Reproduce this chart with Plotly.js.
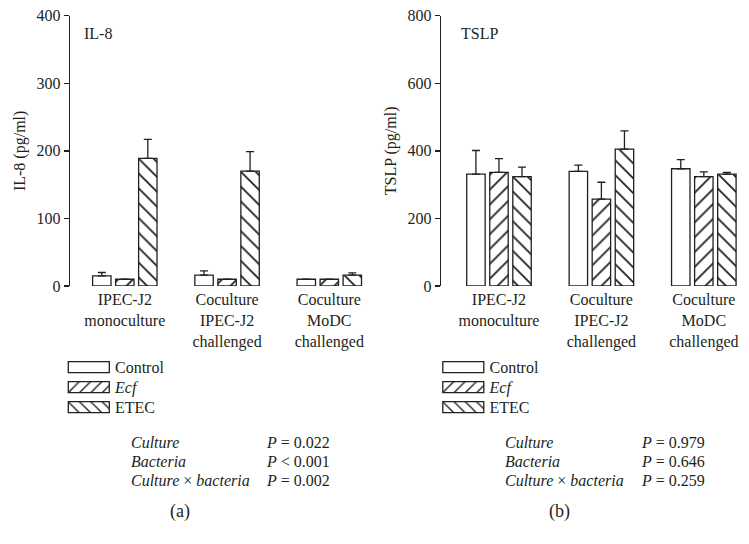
<!DOCTYPE html>
<html><head><meta charset="utf-8">
<script src="https://cdn.plot.ly/plotly-3.0.1.min.js"></script>
<style>html,body{margin:0;padding:0;background:#fff}#chart{width:749px;height:544px}</style>
</head><body><div id="chart"></div>
<script>
// ---- data ----
const categories = ['IPEC-J2<br>monoculture', 'Coculture<br>IPEC-J2<br>challenged', 'Coculture<br>MoDC<br>challenged'];
const seriesNames = ['Control', '<i>Ecf</i>', 'ETEC'];
const il8Control = [15, 16, 10];
const il8ControlErr = [5, 6.5, 0];
const il8Ecf = [10, 10, 10];
const il8EcfErr = [0, 0, 0];
const il8Etec = [189, 170, 16];
const il8EtecErr = [28, 29, 3.5];
const tslpControl = [331, 339, 347];
const tslpControlErr = [70, 19, 27];
const tslpEcf = [336, 257, 324];
const tslpEcfErr = [41, 50, 14];
const tslpEtec = [324, 405, 331];
const tslpEtecErr = [28, 54, 5];
const il8Ticks = [0, 100, 200, 300, 400];
const tslpTicks = [0, 200, 400, 600, 800];
const statLabels = ['<i>Culture</i>', '<i>Bacteria</i>', '<i>Culture</i> × <i>bacteria</i>'];
const il8PValues = ['<i>P</i> = 0.022', '<i>P</i> &lt; 0.001', '<i>P</i> = 0.002'];
const tslpPValues = ['<i>P</i> = 0.979', '<i>P</i> = 0.646', '<i>P</i> = 0.259'];

// ---- style ----
const INK = '#231f20';
const FONT = '"Liberation Serif", "Times New Roman", serif';
const W = 749, H = 544;
const px = v => v / W;
const py = v => (H - v) / H;
const patterns = [
  {shape: ''},
  {shape: '/', size: 10.5, solidity: 0.17, fgcolor: INK, bgcolor: '#fff', fillmode: 'replace'},
  {shape: '\\', size: 10.5, solidity: 0.17, fgcolor: INK, bgcolor: '#fff', fillmode: 'replace'}
];

function bar(i, y, err, xa, ya, legend) {
  return {
    type: 'bar', name: seriesNames[i], x: categories, y: y,
    xaxis: xa, yaxis: ya, legend: legend, showlegend: true,
    marker: {color: '#fff', line: {color: INK, width: 1.3}, pattern: patterns[i]},
    error_y: {type: 'data', symmetric: false, array: err, arrayminus: err.map(() => 0),
              color: INK, thickness: 1.3, width: 4},
    hoverinfo: 'none'
  };
}

const traces = [
  bar(0, il8Control, il8ControlErr, 'x', 'y', 'legend'),
  bar(1, il8Ecf, il8EcfErr, 'x', 'y', 'legend'),
  bar(2, il8Etec, il8EtecErr, 'x', 'y', 'legend'),
  bar(0, tslpControl, tslpControlErr, 'x2', 'y2', 'legend2'),
  bar(1, tslpEcf, tslpEcfErr, 'x2', 'y2', 'legend2'),
  bar(2, tslpEtec, tslpEtecErr, 'x2', 'y2', 'legend2')
];

const yDomain = [py(286), py(15.7)];
function xAxis(domain, range) {
  return {domain: domain, range: range, type: 'category', showline: false, zeroline: false,
          showgrid: false, ticks: '', tickfont: {family: FONT, size: 16, color: INK},
          ticklabelstandoff: 2, fixedrange: true};
}
function yAxis(anchor, ticks, title) {
  return {domain: yDomain, anchor: anchor, range: [ticks[0], ticks[ticks.length - 1]],
          tickvals: ticks, showline: true, linecolor: INK, linewidth: 1.3,
          ticks: 'outside', ticklen: 5, tickwidth: 1.3, tickcolor: INK,
          showgrid: false, zeroline: false, tickfont: {family: FONT, size: 16, color: INK},
          ticklabelstandoff: 0,
          title: {text: title, font: {family: FONT, size: 16, color: INK}, standoff: 7},
          fixedrange: true};
}

const annotations = [];
function addAnn(text, x, y, xanchor, size) {
  annotations.push({text: text, xref: 'paper', yref: 'paper', x: x, y: y, xanchor: xanchor,
    yanchor: 'middle', showarrow: false, font: {family: FONT, size: size || 16, color: INK}});
}
addAnn('IL-8', px(82), py(33.3), 'left');
addAnn('TSLP', px(458.5), py(33.3), 'left');
const statY = [442.7, 461.5, 480.3];
statLabels.forEach((t, i) => {
  addAnn(t, px(129), py(statY[i]), 'left');
  addAnn(il8PValues[i], px(264), py(statY[i]), 'left');
  addAnn(t, px(502.5), py(statY[i]), 'left');
  addAnn(tslpPValues[i], px(639), py(statY[i]), 'left');
});
addAnn('(a)', px(180), py(511.7), 'center', 18);
addAnn('(b)', px(559.7), py(511.7), 'center', 18);

const legendBase = {yanchor: 'top', y: py(350.3), xanchor: 'left', bgcolor: 'rgba(0,0,0,0)',
  itemwidth: 50, tracegroupgap: 0, traceorder: 'normal'};

const layout = {
  width: W, height: H, margin: {l: 0, r: 0, t: 0, b: 0},
  paper_bgcolor: '#fff', plot_bgcolor: '#fff',
  font: {family: FONT, size: 16, color: INK},
  barmode: 'group', bargap: 0.325, bargroupgap: 0.2,
  xaxis: xAxis([px(70), px(384)], [-0.536, 2.535]),
  yaxis: yAxis('x', il8Ticks, 'IL-8 (pg/ml)'),
  xaxis2: xAxis([px(441), 1], [-0.566, 2.441]),
  yaxis2: yAxis('x2', tslpTicks, 'TSLP (pg/ml)'),
  legend: Object.assign({}, legendBase, {x: px(55), font: {family: FONT, size: 16, color: INK}}),
  legend2: Object.assign({}, legendBase, {x: px(429.5), font: {family: FONT, size: 16, color: INK}}),
  annotations: annotations,
  showlegend: true
};

// Legend keys: long boxes and a 20 px row pitch, as in the original figure
const KEY_PATH = 'M24.3,5.5H-16.7V-5.5H24.3Z';
const ROW_PITCH = 20;
function fixLegends(gd) {
  gd.querySelectorAll('g.legend, g.legend2').forEach(leg => {
    const items = Array.from(leg.querySelectorAll('g.traces'));
    if (!items.length) return;
    const parse = el => {
      const m = /translate\(\s*([-\d.e]+)[ ,]+([-\d.e]+)\s*\)/.exec(el.getAttribute('transform') || '');
      return m ? [parseFloat(m[1]), parseFloat(m[2])] : [0, 0];
    };
    if (!leg.dataset.fixed) {
      const [x0, y0] = parse(items[0]);
      items.forEach((it, i) => it.setAttribute('transform', 'translate(' + x0 + ',' + (y0 + i * ROW_PITCH) + ')'));
      leg.dataset.fixed = '1';
    }
    leg.querySelectorAll('.legendpoints path').forEach(p => p.setAttribute('d', KEY_PATH));
  });
}

Plotly.newPlot('chart', traces, layout, {staticPlot: true, displayModeBar: false}).then(gd => {
  fixLegends(gd);
  gd.on('plotly_afterplot', () => fixLegends(gd));
});
</script>
</body></html>
